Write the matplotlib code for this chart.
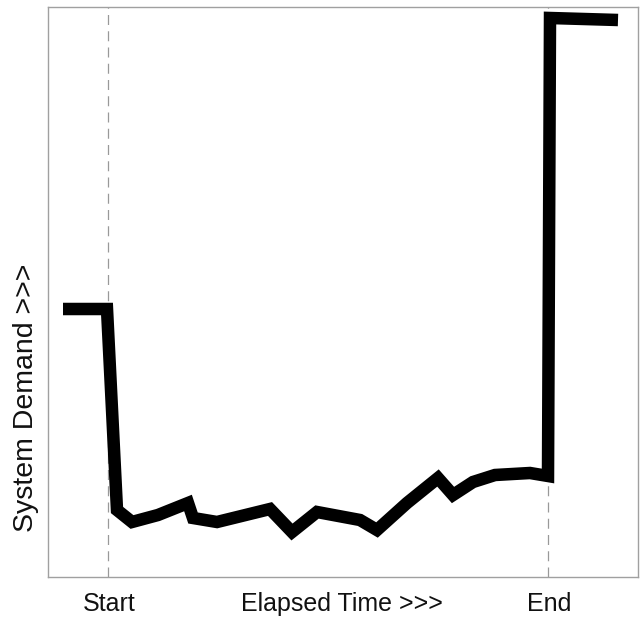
import matplotlib.pyplot as plt

# elapsed time (arbitrary units) and system demand (arbitrary units)
elapsed = [15, 59, 69, 84, 110, 140, 145, 169, 222, 244, 269, 312, 329,
           359, 390, 405, 425, 447, 482, 500, 502, 570]
demand = [268, 268, 67, 55, 62, 74, 59, 55, 68, 45, 65, 57, 47,
          74, 99, 82, 95, 102, 104, 101, 559, 557]

marker_times = [60, 500]
marker_labels = ['Start', 'End']

plt.rcParams['font.family'] = ['Liberation Sans', 'DejaVu Sans']

W, H = 644, 617
fig = plt.figure(figsize=(W / 100, H / 100), dpi=100)
ax = fig.add_axes([48 / W, 40 / H, 590 / W, 570 / H])

ax.plot(elapsed, demand, color='black', linewidth=9,
        solid_joinstyle='miter', solid_capstyle='butt', zorder=3)
for t in marker_times:
    ax.axvline(t, color='#999999', linewidth=0.9, linestyle=(0, (8, 5)), zorder=1)

ax.set_xlim(0, 590)
ax.set_ylim(0, 570)
ax.set_xticks([])
ax.set_yticks([])
for s in ax.spines.values():
    s.set_color('#a0a0a0')
    s.set_linewidth(1.0)

for t, lab in zip(marker_times, marker_labels):
    ax.text(t + 1, -27, lab, ha='center', va='center', fontsize=18,
            color='#111111', clip_on=False)
ax.text(294, -27, 'Elapsed Time >>>', ha='center', va='center', fontsize=18,
        color='#111111', clip_on=False)

fig.text(26 / W, 1 - 398 / H, 'System Demand >>>', rotation=90,
         ha='center', va='center', fontsize=20.5, color='#111111')

fig.savefig('out.png', dpi=100)
